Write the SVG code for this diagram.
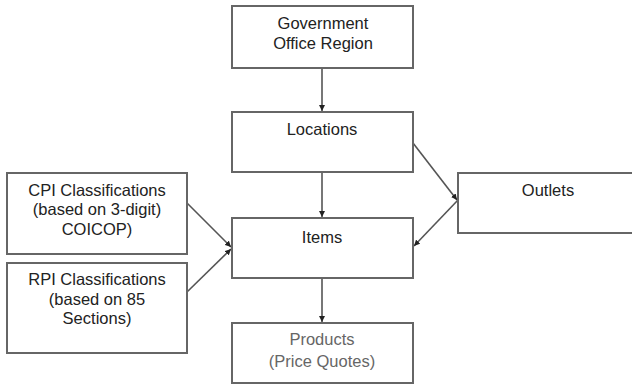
<svg xmlns="http://www.w3.org/2000/svg" width="632" height="386" viewBox="0 0 632 386">
<defs>
<style>
.box{fill:#fff;stroke:#666;stroke-width:2}
.t{font-family:"Liberation Sans",Arial,sans-serif;font-size:16.5px;fill:#222;text-anchor:middle}
.g{fill:#666}
.c{stroke:#555;stroke-width:1.6;fill:none;marker-end:url(#ah)}
</style>
<marker id="ah" viewBox="0 0 10 10" refX="10" refY="5" markerWidth="6" markerHeight="6" markerUnits="userSpaceOnUse" orient="auto">
<path d="M0,0 L10,5 L0,10 z" fill="#222"/>
</marker>
</defs>
<rect width="632" height="386" fill="#fff"/>
<g id="connectors">
<line class="c" x1="322" y1="68" x2="322" y2="111"/>
<line class="c" x1="322" y1="172" x2="322" y2="217"/>
<line class="c" x1="322" y1="278" x2="322" y2="322"/>
<line class="c" x1="413" y1="143" x2="457" y2="200"/>
<line class="c" x1="458" y1="200" x2="414" y2="246"/>
<line class="c" x1="187" y1="203" x2="231" y2="247"/>
<line class="c" x1="187" y1="292" x2="231" y2="249"/>
</g>
<g id="gov">
<rect class="box" x="232" y="6" width="181" height="62"/>
<text class="t" x="323" y="29">Government</text>
<text class="t" x="323" y="49">Office Region</text>
</g>
<g id="locations">
<rect class="box" x="232" y="112" width="181" height="60"/>
<text class="t" x="322" y="135">Locations</text>
</g>
<g id="items">
<rect class="box" x="232" y="218" width="181" height="60"/>
<text class="t" x="322" y="243">Items</text>
</g>
<g id="products">
<rect class="box" x="232" y="323" width="181" height="60"/>
<text class="t g" x="322" y="345">Products</text>
<text class="t g" x="322" y="367">(Price Quotes)</text>
</g>
<g id="outlets">
<rect class="box" x="458" y="173" width="190" height="60"/>
<text class="t" x="548" y="196">Outlets</text>
</g>
<g id="cpi">
<rect class="box" x="7" y="173" width="180" height="81"/>
<text class="t" x="97" y="196">CPI Classifications</text>
<text class="t" x="97" y="215">(based on 3-digit)</text>
<text class="t" x="97" y="235">COICOP)</text>
</g>
<g id="rpi">
<rect class="box" x="7" y="263" width="180" height="90"/>
<text class="t" x="97" y="285">RPI Classifications</text>
<text class="t" x="97" y="305">(based on 85</text>
<text class="t" x="97" y="324">Sections)</text>
</g>
</svg>
